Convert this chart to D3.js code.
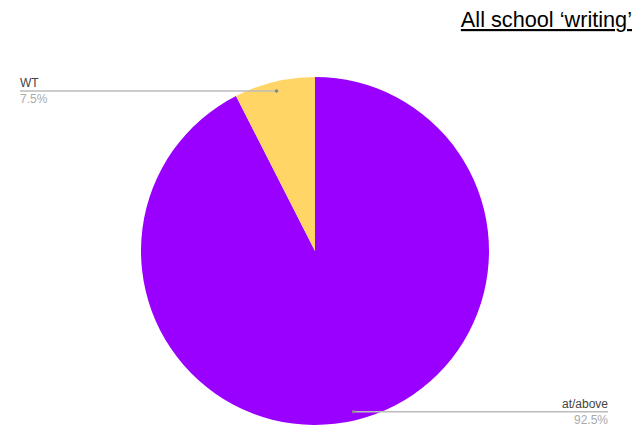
<!DOCTYPE html>
<html><head><meta charset="utf-8">
<script src="https://cdn.jsdelivr.net/npm/d3@7/dist/d3.min.js"></script>
<style>body{margin:0;background:#fff}svg{display:block}</style>
</head><body>
<svg id="c" width="640" height="429"></svg>
<script>
const categories = ["at/above", "WT"];
const values = [92.5, 7.5];
const labels = ["92.5%", "7.5%"];
const colors = ["#9900ff", "#ffd666"];

const svg = d3.select("#c");
const cx = 315, cy = 251, r = 174;
const font = "Liberation Sans, Arial, sans-serif";

svg.append("text").attr("x", 632).attr("y", 27).attr("text-anchor", "end")
  .attr("font-family", font).attr("font-size", 21.7)
  .attr("fill", "#000").attr("text-decoration", "underline")
  .text("All school \u2018writing\u2019");

const pie = d3.pie().sort(null).value(d => d)(values);
const arc = d3.arc().innerRadius(0).outerRadius(r);
const g = svg.append("g").attr("transform", `translate(${cx},${cy})`);
g.selectAll("path").data(pie).join("path").attr("d", arc)
  .attr("fill", (d, i) => colors[i]);

// leader lines & labels
const la = [
  { i: 1, dotR: 0.946, endX: 20, anchor: "start" },
  { i: 0, dotR: 0.95, endX: 608, anchor: "end" }
];
la.forEach(L => {
  const d = pie[L.i];
  const mid = (d.startAngle + d.endAngle) / 2;
  const px = cx + Math.sin(mid) * r * L.dotR, py = cy - Math.cos(mid) * r * L.dotR;
  svg.append("line").attr("x1", px).attr("y1", py).attr("x2", L.endX).attr("y2", py)
    .attr("stroke", "#bbb").attr("stroke-width", 1.5);
  svg.append("circle").attr("cx", px).attr("cy", py).attr("r", 1.8).attr("fill", "#888");
  svg.append("text").attr("x", L.endX).attr("y", py - 4).attr("text-anchor", L.anchor)
    .attr("font-family", font).attr("font-size", 12)
    .attr("fill", "#444").text(categories[L.i]);
  svg.append("text").attr("x", L.endX).attr("y", py + 12).attr("text-anchor", L.anchor)
    .attr("font-family", font).attr("font-size", 12)
    .attr("fill", "#aaa").text(labels[L.i]);
});
</script>
</body></html>
